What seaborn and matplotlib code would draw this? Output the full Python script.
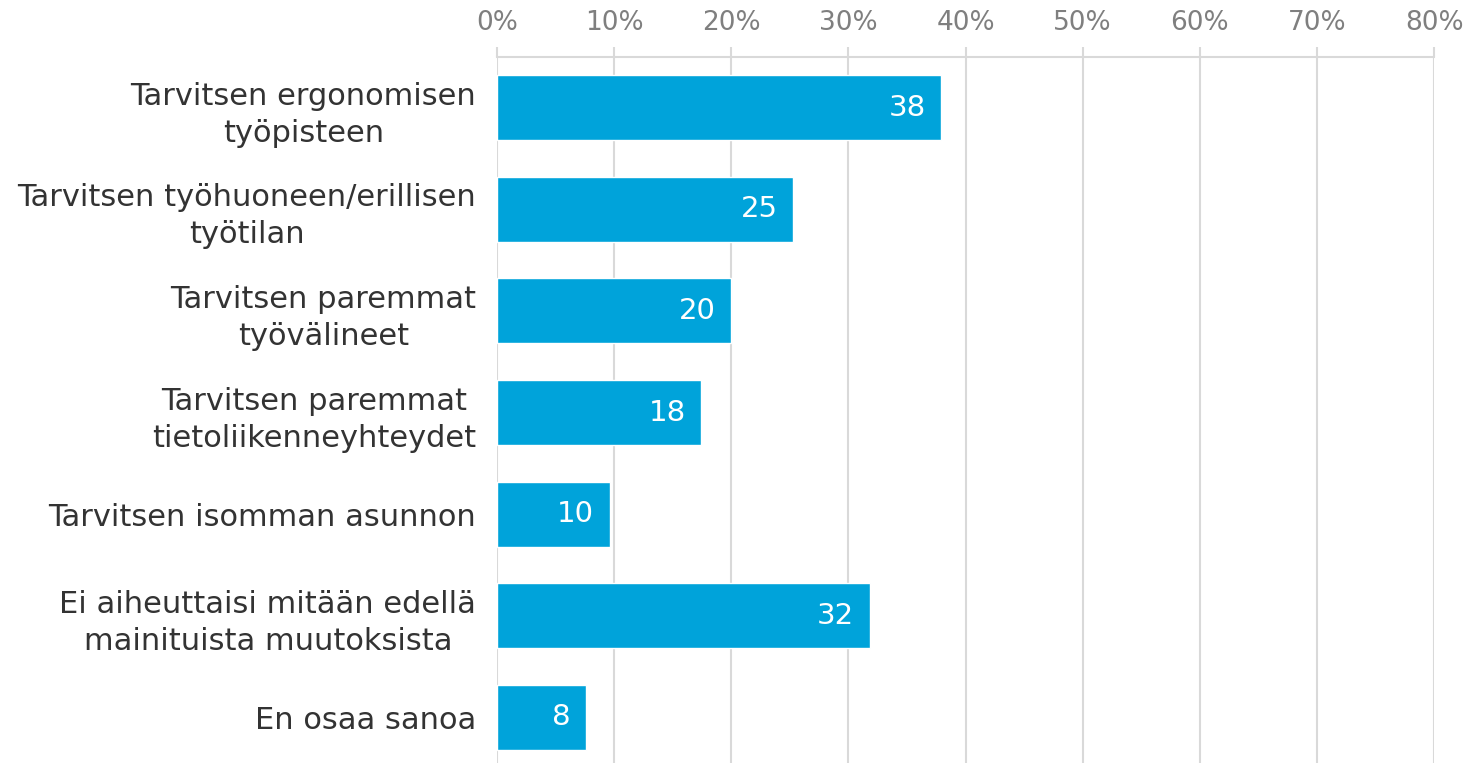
import matplotlib
matplotlib.use("Agg")
import matplotlib.pyplot as plt
import pandas as pd
import seaborn as sns

# Data
categories = [
    "Tarvitsen ergonomisen\ntyöpisteen",
    "Tarvitsen työhuoneen/erillisen\ntyötilan",
    "Tarvitsen paremmat\ntyövälineet",
    "Tarvitsen paremmat\ntietoliikenneyhteydet",
    "Tarvitsen isomman asunnon",
    "Ei aiheuttaisi mitään edellä\nmainituista muutoksista",
    "En osaa sanoa",
]
values = [37.9, 25.3, 20.0, 17.4, 9.6, 31.8, 7.6]
bar_labels = ["38", "25", "20", "18", "10", "32", "8"]
x_ticks = [0, 10, 20, 30, 40, 50, 60, 70, 80]

df = pd.DataFrame({"kategoria": categories, "osuus": values})

sns.set_style("white")
plt.rcParams["font.family"] = ["DejaVu Sans"]

fig = plt.figure(figsize=(14.68, 7.63), dpi=100)
ax = fig.add_axes([0.3386, -0.0066, 0.6383, 0.9319])

sns.barplot(data=df, x="osuus", y="kategoria", orient="h", color="#00A3DA",
            saturation=1, width=0.64, ax=ax)

ax.set_xlim(0, 80)
ax.set_ylim(6.5, -0.5)
ax.set_xticks(x_ticks)
ax.set_xticklabels([f"{t}%" for t in x_ticks])
ax.xaxis.tick_top()
ax.grid(axis="x", color="#D9D9D9", linewidth=1.5)
ax.set_axisbelow(True)
for s in ["left", "right", "bottom"]:
    ax.spines[s].set_visible(False)
ax.spines["top"].set_color("#D9D9D9")
ax.spines["top"].set_linewidth(1.5)
ax.tick_params(axis="x", which="both", top=True, length=7, width=1.5, color="#D9D9D9",
               labelsize=19, labelcolor="#7F7F7F", pad=8)
ax.tick_params(axis="y", length=0, labelsize=22, labelcolor="#333333", pad=15)
for lab in ax.get_yticklabels():
    lab.set_multialignment("center")
    lab.set_linespacing(1.35)
ax.set_xlabel("")
ax.set_ylabel("")

texts = ax.bar_label(ax.containers[0], labels=bar_labels, padding=-11,
                     color="white", fontsize=21)
for t in texts:
    t.set_ha("right")

plt.savefig("out.png", dpi=100)
